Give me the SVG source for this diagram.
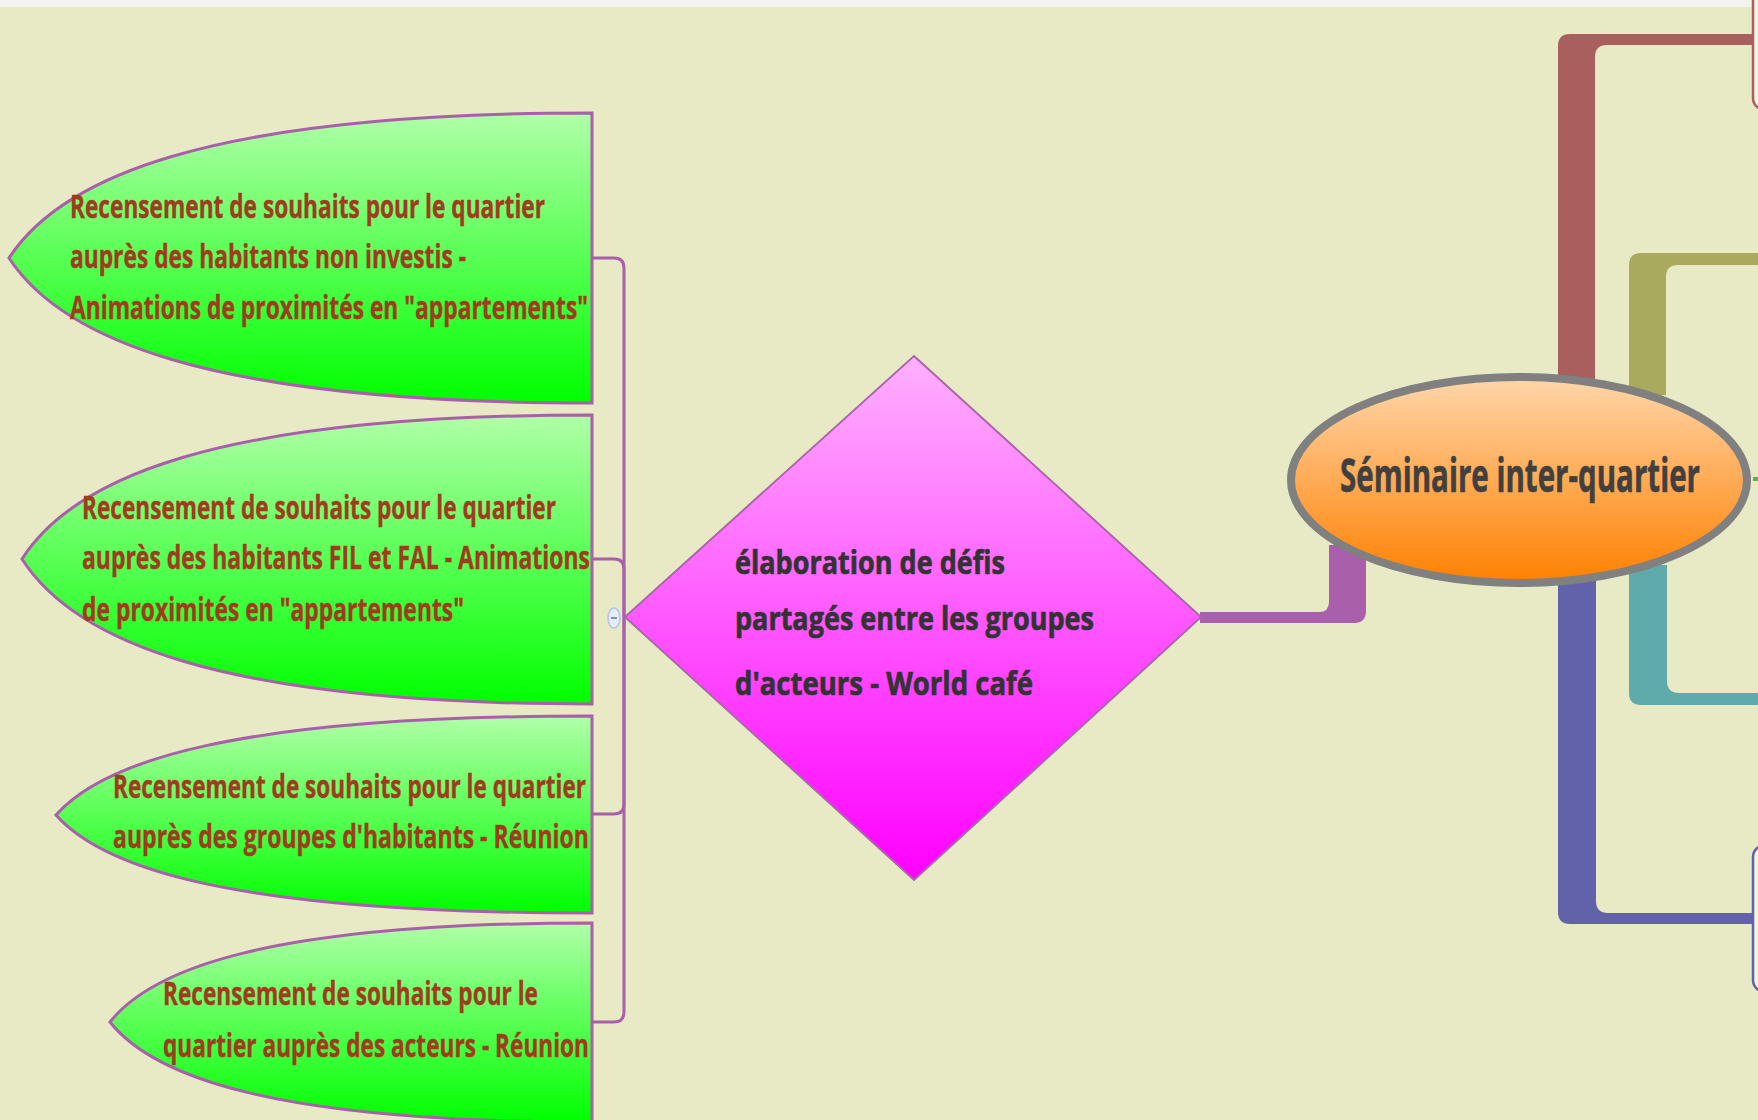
<svg xmlns="http://www.w3.org/2000/svg" width="1758" height="1120" viewBox="0 0 1758 1120">
<style>
.leaf{stroke:#AA5FAA;stroke-width:3;fill:url(#gGreen)}
.lt{font-family:"Open Sans","Noto Sans","Liberation Sans",sans-serif;font-weight:bold;font-size:33px;fill:#A03C1E;stroke:#A03C1E;stroke-width:0.4}
.dt{font-family:"Open Sans","Noto Sans","Liberation Sans",sans-serif;font-weight:bold;font-size:33px;fill:#333333;stroke:#333333;stroke-width:0.7}
.et{font-family:"Open Sans","Noto Sans","Liberation Sans",sans-serif;font-weight:bold;font-size:46px;fill:#404040;stroke:#404040;stroke-width:0.6}
.thin{fill:none;stroke:#AA5FAA;stroke-width:3}
</style>
<defs>
<linearGradient id="gGreen" x1="0" y1="0" x2="0" y2="1">
<stop offset="0" stop-color="#B0FFA8"/>
<stop offset="1" stop-color="#00FF00"/>
</linearGradient>
<linearGradient id="gPink" x1="0" y1="0" x2="0" y2="1">
<stop offset="0" stop-color="#FFB0FF"/>
<stop offset="1" stop-color="#FF00FF"/>
</linearGradient>
<linearGradient id="gOrange" x1="0" y1="0" x2="0" y2="1">
<stop offset="0" stop-color="#FFD6AA"/>
<stop offset="1" stop-color="#FF8000"/>
</linearGradient>
</defs>
<rect x="0" y="0" width="1758" height="1120" fill="#E8EAC6"/>
<rect x="0" y="0" width="1758" height="7" fill="#F3F3F0"/>

<g id="connectors">
<path class="thin" d="M624,616 V268 Q624,258 614,258 H593"/>
<path class="thin" d="M624,616 V569 Q624,559 614,559 H593"/>
<path class="thin" d="M624,616 V804 Q624,814 614,814 H593"/>
<path class="thin" d="M624,616 V1012 Q624,1022 614,1022 H593"/>
<path fill="#AA5FAA" d="M1200,612 H1319 Q1329,612 1329,602 V545 H1366 V611 Q1366,623 1354,623 H1200 Z"/>
<path fill="#AA5F5F" d="M1558,385 V46 Q1558,34 1570,34 H1753 V45 H1607 Q1595,45 1595,57 V385 Z"/>
<path fill="#AAAA5F" d="M1629,395 V265 Q1629,253 1641,253 H1758 V265 H1678 Q1666,265 1666,277 V395 Z"/>
<path fill="#5FAAAA" d="M1629,565 V693 Q1629,705 1641,705 H1758 V693 H1679 Q1667,693 1667,681 V565 Z"/>
<path fill="#6262AA" d="M1558,575 V912 Q1558,924 1570,924 H1753 V913 H1608 Q1596,913 1596,901 V575 Z"/>
<line x1="1753" y1="479" x2="1758" y2="479" stroke="#5FAA5F" stroke-width="4"/>
</g>

<g id="node-right-top">
<rect x="1753" y="-30" width="40" height="140" rx="12" fill="#F2F2E8" stroke="#AA5F5F" stroke-width="2.5"/>
</g>
<g id="node-right-bottom">
<rect x="1753" y="845" width="40" height="147" rx="12" fill="#F2F2E8" stroke="#6262AA" stroke-width="2.5"/>
</g>

<g id="leaf1">
<path class="leaf" d="M9,258 C60,180 200,113 592,113 V403 C200,403 60,336 9,258 Z"/>
<text class="lt" x="70" y="218" textLength="475" lengthAdjust="spacingAndGlyphs">Recensement de souhaits pour le quartier</text>
<text class="lt" x="70" y="268" textLength="396" lengthAdjust="spacingAndGlyphs">auprès des habitants non investis -</text>
<text class="lt" x="70" y="319" textLength="518" lengthAdjust="spacingAndGlyphs">Animations de proximités en "appartements"</text>
</g>

<g id="leaf2">
<path class="leaf" d="M22,559 C72,481 208,415 592,415 V704 C208,704 72,637 22,559 Z"/>
<text class="lt" x="82" y="519" textLength="474" lengthAdjust="spacingAndGlyphs">Recensement de souhaits pour le quartier</text>
<text class="lt" x="82" y="569" textLength="508" lengthAdjust="spacingAndGlyphs">auprès des habitants FIL et FAL - Animations</text>
<text class="lt" x="82" y="621" textLength="382" lengthAdjust="spacingAndGlyphs">de proximités en "appartements"</text>
</g>

<g id="leaf3">
<path class="leaf" d="M56,815 C103,762 231,716 592,716 V913 C231,913 103,868 56,815 Z"/>
<text class="lt" x="113" y="798" textLength="473" lengthAdjust="spacingAndGlyphs">Recensement de souhaits pour le quartier</text>
<text class="lt" x="113" y="848" textLength="476" lengthAdjust="spacingAndGlyphs">auprès des groupes d'habitants - Réunion</text>
</g>

<g id="leaf4">
<path class="leaf" d="M110,1022 C152,969 268,923 592,923 V1122 C268,1122 152,1075 110,1022 Z"/>
<text class="lt" x="163" y="1005" textLength="375" lengthAdjust="spacingAndGlyphs">Recensement de souhaits pour le</text>
<text class="lt" x="163" y="1057" textLength="426" lengthAdjust="spacingAndGlyphs">quartier auprès des acteurs - Réunion</text>
</g>

<g id="collapse">
<ellipse cx="614" cy="618" rx="6" ry="10" fill="#E6ECFA" stroke="#B4C4EC" stroke-width="1.5"/>
<line x1="611" y1="618" x2="617" y2="618" stroke="#8890B0" stroke-width="2"/>
</g>

<g id="diamond">
<polygon points="914,356 1201,617 914,880 625,617" fill="url(#gPink)" stroke="#AA66AA" stroke-width="2"/>
<text class="dt" x="735" y="574" textLength="270" lengthAdjust="spacingAndGlyphs">élaboration de défis</text>
<text class="dt" x="735" y="630" textLength="359" lengthAdjust="spacingAndGlyphs">partagés entre les groupes</text>
<text class="dt" x="735" y="695" textLength="298" lengthAdjust="spacingAndGlyphs">d'acteurs - World café</text>
</g>

<g id="central">
<ellipse cx="1519" cy="480" rx="228" ry="103" fill="url(#gOrange)" stroke="#808080" stroke-width="8"/>
<text class="et" x="1340" y="492" textLength="360" lengthAdjust="spacingAndGlyphs">Séminaire inter-quartier</text>
</g>
</svg>
